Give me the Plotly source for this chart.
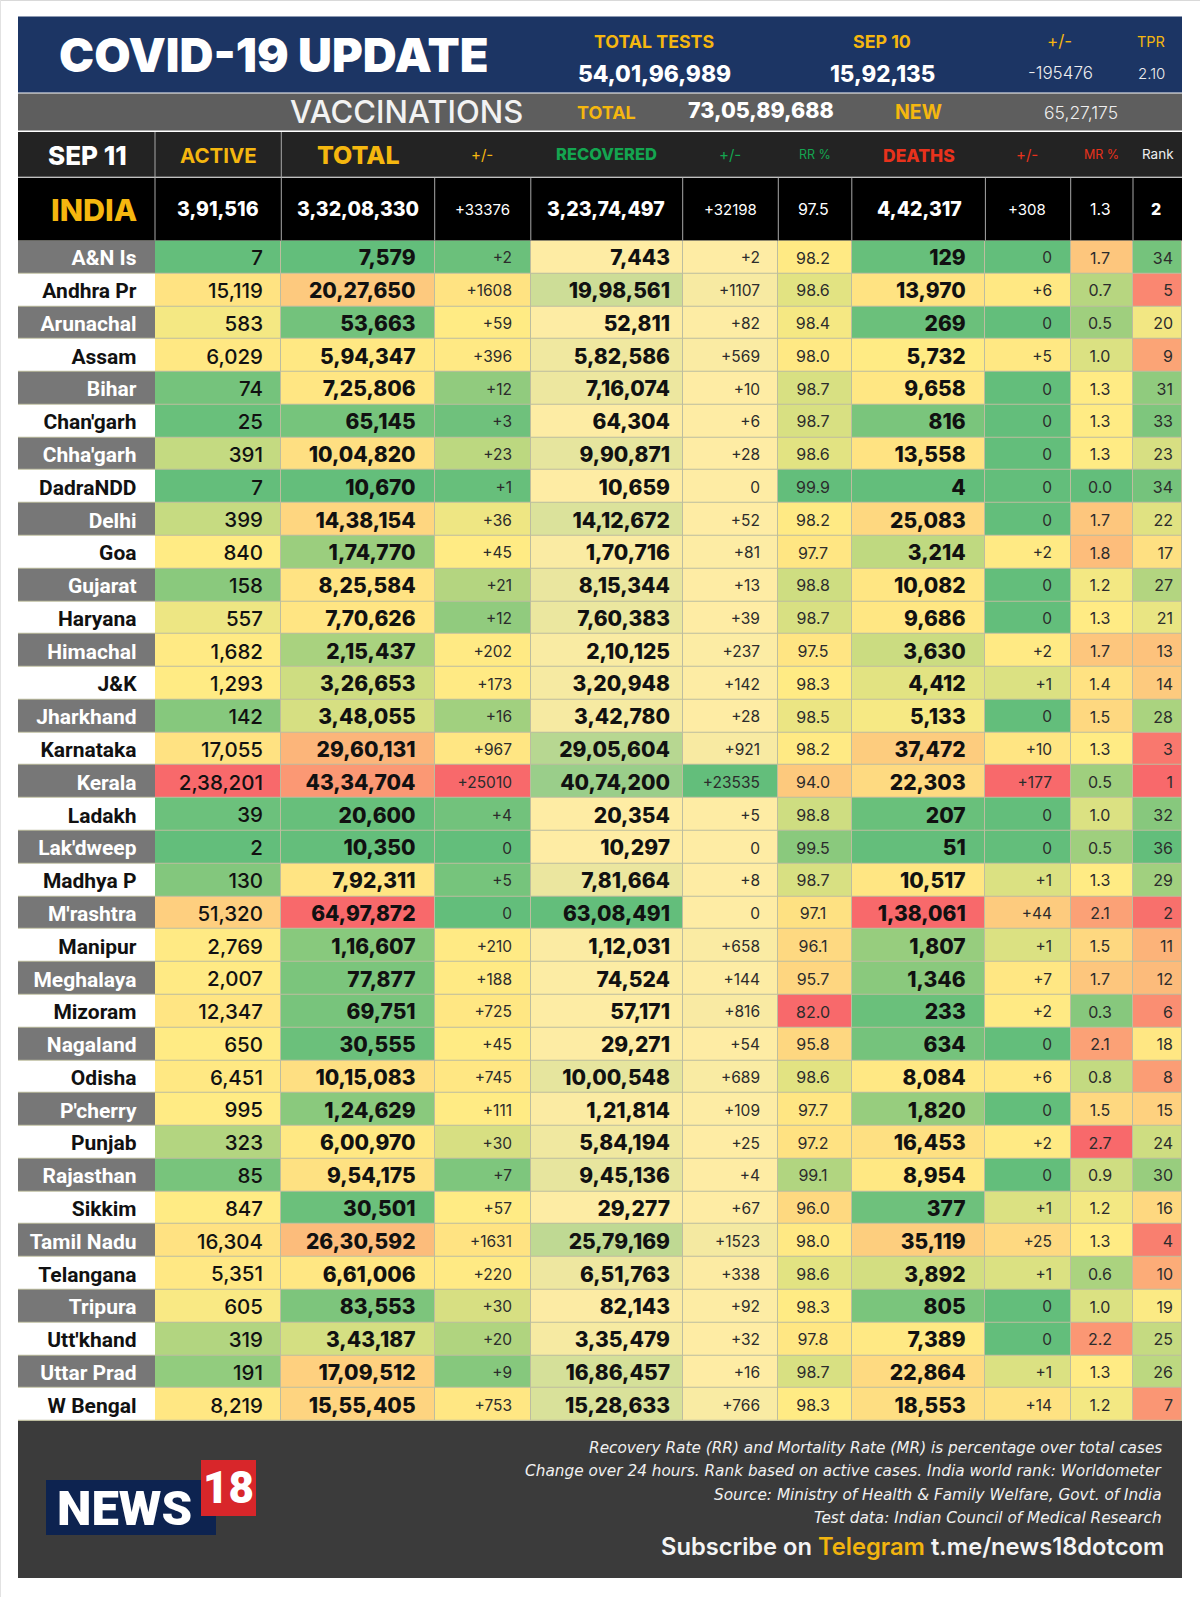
"""COVID-19 state table for India, 11 Sep 2021, drawn as heatmap cells with text traces."""

import numpy as np
import plotly.graph_objects as go

states = ["A&N Is", "Andhra Pr", "Arunachal", "Assam", "Bihar", "Chan'garh", "Chha'garh", "DadraNDD", "Delhi",
          "Goa", "Gujarat", "Haryana", "Himachal", "J&K", "Jharkhand", "Karnataka", "Kerala", "Ladakh",
          "Lak'dweep", "Madhya P", "M'rashtra", "Manipur", "Meghalaya", "Mizoram", "Nagaland", "Odisha",
          "P'cherry", "Punjab", "Rajasthan", "Sikkim", "Tamil Nadu", "Telangana", "Tripura", "Utt'khand",
          "Uttar Prad", "W Bengal"]
active = [7, 15119, 583, 6029, 74, 25, 391, 7, 399, 840, 158, 557, 1682, 1293, 142, 17055, 238201, 39,
          2, 130, 51320, 2769, 2007, 12347, 650, 6451, 995, 323, 85, 847, 16304, 5351, 605, 319, 191, 8219]
total = [7579, 2027650, 53663, 594347, 725806, 65145, 1004820, 10670, 1438154, 174770, 825584, 770626,
         215437, 326653, 348055, 2960131, 4334704, 20600, 10350, 792311, 6497872, 116607, 77877, 69751,
         30555, 1015083, 124629, 600970, 954175, 30501, 2630592, 661006, 83553, 343187, 1709512, 1555405]
total_chg = [2, 1608, 59, 396, 12, 3, 23, 1, 36, 45, 21, 12, 202, 173, 16, 967, 25010, 4,
             0, 5, 0, 210, 188, 725, 45, 745, 111, 30, 7, 57, 1631, 220, 30, 20, 9, 753]
recovered = [7443, 1998561, 52811, 582586, 716074, 64304, 990871, 10659, 1412672, 170716, 815344, 760383,
             210125, 320948, 342780, 2905604, 4074200, 20354, 10297, 781664, 6308491, 112031, 74524, 57171,
             29271, 1000548, 121814, 584194, 945136, 29277, 2579169, 651763, 82143, 335479, 1686457, 1528633]
recovered_chg = [2, 1107, 82, 569, 10, 6, 28, 0, 52, 81, 13, 39, 237, 142, 28, 921, 23535, 5,
                 0, 8, 0, 658, 144, 816, 54, 689, 109, 25, 4, 67, 1523, 338, 92, 32, 16, 766]
rr = [98.2, 98.6, 98.4, 98.0, 98.7, 98.7, 98.6, 99.9, 98.2, 97.7, 98.8, 98.7, 97.5, 98.3, 98.5, 98.2, 94.0, 98.8,
      99.5, 98.7, 97.1, 96.1, 95.7, 82.0, 95.8, 98.6, 97.7, 97.2, 99.1, 96.0, 98.0, 98.6, 98.3, 97.8, 98.7, 98.3]
deaths = [129, 13970, 269, 5732, 9658, 816, 13558, 4, 25083, 3214, 10082, 9686, 3630, 4412, 5133, 37472, 22303, 207,
          51, 10517, 138061, 1807, 1346, 233, 634, 8084, 1820, 16453, 8954, 377, 35119, 3892, 805, 7389, 22864, 18553]
deaths_chg = [0, 6, 0, 5, 0, 0, 0, 0, 0, 2, 0, 0, 2, 1, 0, 10, 177, 0,
              0, 1, 44, 1, 7, 2, 0, 6, 0, 2, 0, 1, 25, 1, 0, 0, 1, 14]
mr = [1.7, 0.7, 0.5, 1.0, 1.3, 1.3, 1.3, 0.0, 1.7, 1.8, 1.2, 1.3, 1.7, 1.4, 1.5, 1.3, 0.5, 1.0,
      0.5, 1.3, 2.1, 1.5, 1.7, 0.3, 2.1, 0.8, 1.5, 2.7, 0.9, 1.2, 1.3, 0.6, 1.0, 2.2, 1.3, 1.2]
rank = [34, 5, 20, 9, 31, 33, 23, 34, 22, 17, 27, 21, 13, 14, 28, 3, 1, 32,
        36, 29, 2, 11, 12, 6, 18, 8, 15, 24, 30, 16, 4, 10, 19, 25, 26, 7]

india = ["3,91,516", "3,32,08,330", "+33376", "3,23,74,497", "+32198", "97.5", "4,42,317", "+308", "1.3", "2"]

footer_notes = ["Recovery Rate (RR) and Mortality Rate (MR) is percentage over total cases",
                "Change over 24 hours. Rank based on active cases. India world rank: Worldometer",
                "Source: Ministry of Health & Family Welfare, Govt. of India",
                "Test data: Indian Council of Medical Research"]

# layout, in page pixels
X_EDGES = [18, 155, 281.3, 434.7, 530.8, 682.7, 778.3, 851.8, 985.4, 1070.7, 1133, 1182]
ROW_TOP = 240.7
ROW_H = 32.78
N = len(states)
Y_EDGES = [ROW_TOP + ROW_H * i for i in range(N + 1)]
Y_MID = [ROW_TOP + ROW_H * (i + 0.5) for i in range(N)]
NUM = "Inter"
COND = "Roboto"
YELLOW = "#f5b70f"
GREEN = "#14a550"
RED = "#e8321c"


def indian(n):
    """Group digits the Indian way: 12,34,567."""
    s = str(n)
    if len(s) <= 3:
        return s
    head, tail = s[:-3], s[-3:]
    parts = []
    while len(head) > 2:
        parts.insert(0, head[-2:])
        head = head[:-2]
    parts.insert(0, head)
    return ",".join(parts + [tail])


def delta(n):
    return "+%d" % n if n else "0"


def three_colour(values, flip=False, mid=None):
    """Spreadsheet style scale: min -1, median (or mid) 0, max +1."""
    v = np.array(values, dtype=float)
    lo, med, hi = v.min(), np.percentile(v, 50) if mid is None else mid, v.max()
    out = np.where(v < med, (v - med) / (med - lo), (v - med) / (hi - med))
    return -out if flip else out


def two_colour(values):
    """0 at the minimum, 1 at the maximum."""
    v = np.array(values, dtype=float)
    return (v - v.min()) / (v.max() - v.min())


blank = np.full(N, np.nan)
z_three = np.column_stack([
    three_colour(active), three_colour(total), three_colour(total_chg),
    blank, blank, three_colour(rr, flip=True),
    three_colour(deaths), three_colour(deaths_chg, mid=1.3), three_colour(mr), three_colour(rank, flip=True),
])
z_two = np.column_stack([
    blank, blank, blank, two_colour(recovered), two_colour(recovered_chg), blank, blank, blank, blank, blank,
])

fig = go.Figure()

fig.add_trace(go.Heatmap(
    x=X_EDGES[1:], y=Y_EDGES, z=z_three, zmin=-1, zmax=1, xgap=1, ygap=1, showscale=False, hoverinfo="skip",
    colorscale=[[0, "#63be7b"], [0.5, "#ffeb84"], [1, "#f8696b"]],
))
fig.add_trace(go.Heatmap(
    x=X_EDGES[1:], y=Y_EDGES, z=z_two, zmin=0, zmax=1, xgap=1, ygap=1, showscale=False, hoverinfo="skip",
    colorscale=[[0, "#feeca4"], [1, "#63be7b"]],
))
fig.add_trace(go.Heatmap(
    x=X_EDGES[:2], y=Y_EDGES, z=[[i % 2] for i in range(N)], zmin=0, zmax=1, ygap=1, showscale=False,
    hoverinfo="skip", colorscale=[[0, "#777777"], [1, "#ffffff"]],
))


def column_text(x, labels, size, weight=400, pos="middle left", family=NUM, color=None, nudge=2.5):
    fig.add_trace(go.Scatter(
        x=[x] * N, y=[y + nudge for y in Y_MID], mode="text", text=labels, textposition=pos,
        hoverinfo="skip", showlegend=False,
        textfont=dict(family=family, size=size, weight=weight, color=color or "#111111"),
    ))


column_text(136.5, states, 21, 700, family=COND,
            color=["#ffffff" if i % 2 == 0 else "#111111" for i in range(N)], nudge=3)
column_text(263, [indian(v) for v in active], 20.5, 500, nudge=3)
column_text(415.6, [indian(v) for v in total], 21, 800, nudge=3)
column_text(512, [delta(v) for v in total_chg], 15.5, 400, color="#2c2c2c")
column_text(670, [indian(v) for v in recovered], 21, 800, nudge=3)
column_text(760, [delta(v) for v in recovered_chg], 15.5, 400, color="#2c2c2c")
column_text(813, ["%.1f" % v for v in rr], 16, 400, "middle center", color="#2c2c2c")
column_text(965.7, [indian(v) for v in deaths], 21, 800, nudge=3)
column_text(1052, [delta(v) for v in deaths_chg], 15.5, 400, color="#2c2c2c")
column_text(1100, ["%.1f" % v for v in mr], 16, 400, "middle center", color="#2c2c2c")
column_text(1173, [str(v) for v in rank], 16, 400, color="#2c2c2c")

# bands behind the table and header rows
bands = [(18, 16.5, 1182, 92.5, "#1c3564"), (18, 93.5, 1182, 130.5, "#5e5e5e"),
         (18, 132, 1182, 176.7, "#232323"), (18, 177.7, 1182, 240.7, "#000000"),
         (18, 240.7, 1182, 1421, "#bdbd9f"), (18, 1421, 1182, 1578, "#3b3b3b"),
         (46, 1480, 216, 1535, "#0d2350"), (201, 1460, 256, 1516, "#d8262a")]
for x0, y0, x1, y1, c in bands:
    # logo sits on top of the footer, so order is kept
    fig.add_shape(type="rect", x0=x0, y0=y0, x1=x1, y1=y1, fillcolor=c, line_width=0, layer="below")

for x in X_EDGES[1:-1]:
    fig.add_shape(type="line", x0=x, x1=x, y0=177.7, y1=240.7, line=dict(color="#a8a8a8", width=1), layer="below")
for x in X_EDGES[1:3]:
    fig.add_shape(type="line", x0=x, x1=x, y0=132, y1=177.7, line=dict(color="#a8a8a8", width=1), layer="below")
fig.add_shape(type="line", x0=0, x1=1200, y0=0.5, y1=0.5, line=dict(color="#d9d9d9", width=1), layer="below")
fig.add_shape(type="line", x0=0.5, x1=0.5, y0=0, y1=1597, line=dict(color="#e2e2e2", width=1), layer="below")


def label(x, y, text, size, color="#ffffff", weight=400, family=NUM, anchor="center", style="normal"):
    fig.add_annotation(x=x, y=y, text=text, showarrow=False, xanchor=anchor, yanchor="middle",
                       font=dict(family=family, size=size, color=color, weight=weight, style=style))


label(274, 54, "COVID-19 UPDATE", 47, weight=900)
label(654, 41, "TOTAL TESTS", 17.8, YELLOW, 700)
label(654, 73, "54,01,96,989", 22.8, weight=800)
label(882, 41, "SEP 10", 17.8, YELLOW, 700)
label(882, 73, "15,92,135", 22.3, weight=800)
label(1059, 41, "+/-", 17, YELLOW)
label(1060, 73, "-195476", 17, "#eeeeee", 300)
label(1151, 41, "TPR", 14.5, YELLOW)
label(1151, 73, "2.10", 15, "#eeeeee", 300)

label(406, 111, "VACCINATIONS", 31, "#f2f2f2", 500)
label(606, 112, "TOTAL", 18, YELLOW, 700)
label(761, 110, "73,05,89,688", 21.5, weight=800)
label(918, 112, "NEW", 19.5, YELLOW, 700)
label(1081, 112, "65,27,175", 17.5, "#eeeeee", 300)

label(87, 155, "SEP 11", 26, weight=800)
label(218, 155, "ACTIVE", 20.5, YELLOW, 700)
label(358, 155, "TOTAL", 25, YELLOW, 800)
label(482, 154, "+/-", 15, YELLOW)
label(606, 154, "RECOVERED", 16.5, GREEN, 800)
label(730, 154, "+/-", 15, GREEN)
label(815, 154, "RR %", 12.5, GREEN)
label(919, 155, "DEATHS", 17.5, RED, 800)
label(1027, 154, "+/-", 15, RED)
label(1101, 154, "MR %", 12.5, RED)
label(1158, 154, "Rank", 13.5, "#eeeeee")

label(93.5, 209, "INDIA", 30.5, YELLOW, 800)
india_x = [218, 358, 482, 606, 730, 813, 919, 1027, 1100, 1156]
india_size = [19.5, 19.5, 15, 19.5, 15, 16, 19.5, 15, 16, 16]
india_weight = [800, 800, 400, 800, 400, 400, 800, 400, 400, 800]
for x, t, s, w in zip(india_x, india, india_size, india_weight):
    label(x, 209, t, s, weight=w)

for y, t in zip([1447.6, 1471, 1494.5, 1518], footer_notes):
    label(1164, y, t, 15.3, "#f0f0f0", family="DejaVu Sans", anchor="right", style="italic")
label(1166, 1546.5, "Subscribe on <span style='color:#f2b40f'>Telegram</span> t.me/news18dotcom", 23.7,
      "#f4f4f4", 600, anchor="right")

label(124.5, 1508, "NEWS", 49, weight=900, family=COND)
label(228, 1488, "18", 44, weight=900, family=COND)

fig.update_layout(
    width=1200, height=1597, margin=dict(l=0, r=0, t=0, b=0),
    paper_bgcolor="#ffffff", plot_bgcolor="#ffffff", showlegend=False,
    xaxis=dict(range=[0, 1200], visible=False, fixedrange=True),
    yaxis=dict(range=[1597, 0], visible=False, fixedrange=True),
)

fig.write_html("out.html", config={"displayModeBar": False}, post_script="document.body.style.margin='0';")
